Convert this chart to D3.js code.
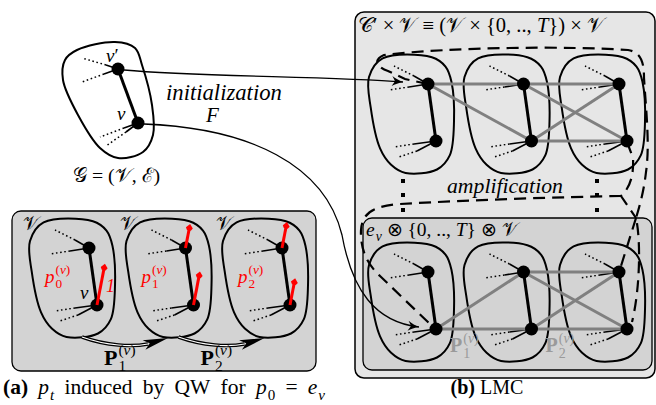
<!DOCTYPE html>
<html><head><meta charset="utf-8">
<script src="https://cdn.jsdelivr.net/npm/d3@7"></script>
<style>body{margin:0;background:#fff}svg{display:block}</style>
</head><body><svg id="c" width="656" height="405"></svg>
<script>
// ---------------- data ----------------
const stages = [0, 1, 2];                       // time steps t
const roles = ["upper", "lower"];               // v' (upper) and v (lower) in every copy of V
const qwAmplitude = [[0, 1.0], [0.55, 0.80], [0.60, 0.62]]; // red bars: p_t at upper / lower vertex
const transitionLabels = ["1", "2"];            // P_1^(v), P_2^(v)
const lmcEdgesTop = [[0,0,1,0],[0,0,1,1],[1,0,2,0],[1,0,2,1],[1,1,2,0],[1,1,2,1]];    // [t, role, t', role']
const lmcEdgesBottom = [[0,1,1,1],[0,1,1,0],[1,0,2,0],[1,0,2,1],[1,1,2,0],[1,1,2,1]];

// ---------------- font detection ----------------
function detect(fams) {
  const c = document.createElement("canvas").getContext("2d");
  const s = "mmmmmmmmmmlli WQ@#Ajgy";
  const wOf = f => { c.font = "40px " + f; return c.measureText(s).width; };
  const mono = wOf("monospace"), sans = wOf("sans-serif");
  for (const f of fams) {
    if (wOf(`'${f}',monospace`) !== mono || wOf(`'${f}',sans-serif`) !== sans) return f;
  }
  return null;
}
const found = detect(["Liberation Serif", "Times New Roman", "Tinos", "DejaVu Serif", "Noto Serif"]);
const FONT = found ? `'${found}', serif` : "serif";

// ---------------- setup ----------------
const svg = d3.select("#c");
const VV = ["(", {t:"v", i:1}, ")"];

const xA = d3.scaleLinear().domain([0, 2]).range([89, 282]);
const xB = d3.scaleLinear().domain([0, 2]).range([428, 619]);
const roleDx = d3.scaleOrdinal().domain(roles).range([0, 8]);
const roleDy = d3.scaleOrdinal().domain(roles).range([0, 57]);
const ampLen = d3.scaleLinear().domain([0, 1]).range([0, 39]);

const blobShape = [[0.16,0.02],[0.74,0.01],[0.9,0.09],[0.97,0.22],[1.0,0.56],[0.95,0.85],[0.8,0.97],[0.43,1.0],[0.26,0.93],[0.13,0.79],[0.02,0.44],[0.0,0.18]];
const closed = d3.line().curve(d3.curveCatmullRomClosed.alpha(0.5));

function put(g, segs, x, y, sz, fill, base) {
  const t = g.append("text").attr("x", x).attr("y", y).attr("font-size", sz)
    .attr("font-family", FONT).attr("fill", fill);
  const arr = Array.isArray(segs) ? segs : [Object.assign({}, base || {}, {t: segs})];
  arr.forEach(s => {
    if (typeof s === "string") s = {t: s};
    t.append("tspan").text(s.t.replace(/ /g, "\u00a0"))
      .style("font-style", s.i ? "italic" : "normal")
      .style("font-weight", s.b ? "bold" : "normal");
  });
  return t.node().getComputedTextLength();
}
function mtextRaw(parent, x, y, toks, size, fill, ws) {
  const g = parent.append("g");
  let cx = x, nsp = 0;
  let spW = 0;
  if (ws !== undefined) { const tmp = g.append("g"); spW = put(tmp, "\u00a0", 0, 0, size, fill); tmp.remove(); }
  toks.forEach(tk => {
    if (typeof tk === "string") tk = {t: tk};
    if (tk.t !== undefined) {
      if (ws !== undefined && typeof tk.t === "string" && tk.t.indexOf(" ") >= 0) {
        const parts = tk.t.split(" ");
        parts.forEach((p, j) => {
          if (p.length) cx += put(g, p, cx, y, size, fill, tk);
          if (j < parts.length - 1) { cx += spW + ws; nsp++; }
        });
      } else cx += put(g, tk.t, cx, y, size, fill, tk);
    } else {
      let w = 0; const s = size * 0.7;
      if (tk.sup !== undefined) w = Math.max(w, put(g, tk.sup, cx + 1, y - size * 0.47, s, fill));
      if (tk.sub !== undefined) w = Math.max(w, put(g, tk.sub, cx + 1, y + size * 0.28, s, fill));
      cx += w + 1;
    }
  });
  return [g, cx - x, nsp];
}
function mtext(parent, x, y, toks, o) {
  const fill = o.fill || "#000";
  let size = o.size;
  let g, w, n;
  if (o.spread) {
    [g, w, n] = mtextRaw(parent, x, y, toks, size, fill, 0);
    g.remove();
    [g, w] = mtextRaw(parent, x, y, toks, size, fill, n ? Math.max(0, (o.spread - w) / n) : 0);
  } else {
    [g, w] = mtextRaw(parent, x, y, toks, size, fill);
    if (o.fit) { g.remove(); size = size * o.fit / w; [g, w] = mtextRaw(parent, x, y, toks, size, fill); }
  }
  if (o.anchor === "middle") g.attr("transform", `translate(${-w / 2},0)`);
  return g;
}
function nodePos(x, y, role) { return [x + roleDx(role), y + roleDy(role)]; }

const spokes = {
  upper: [[-34,-18,-14,-8],[-39,6,-19,3]],
  lower: [[-42,6,-22,3],[-37,16,-19,10]]
};
function drawCopy(g, x, y) {
  const bx = x - 59, by = y - 28, bw = 85, bh = 117;
  g.append("path").attr("d", closed(blobShape.map(([u,v]) => [bx + u*bw, by + v*bh])))
    .attr("fill", "none").attr("stroke", "#000").attr("stroke-width", 2);
  roles.forEach(r => {
    const [nx, ny] = nodePos(x, y, r);
    spokes[r].forEach(([ex, ey, sx, sy]) => {
      g.append("line").attr("x1", nx+sx).attr("y1", ny+sy).attr("x2", nx+ex).attr("y2", ny+ey)
        .attr("stroke", "#000").attr("stroke-width", 1.5).attr("stroke-dasharray", "1.6,2.6");
      g.append("line").attr("x1", nx).attr("y1", ny).attr("x2", nx+sx).attr("y2", ny+sy)
        .attr("stroke", "#000").attr("stroke-width", 1.6);
    });
  });
}
function drawInner(g, x, y) {
  const [ux, uy] = nodePos(x, y, "upper"), [lx, ly] = nodePos(x, y, "lower");
  g.append("line").attr("x1", ux).attr("y1", uy).attr("x2", lx).attr("y2", ly)
    .attr("stroke", "#000").attr("stroke-width", 3);
}
function drawNodes(g, x, y) {
  roles.forEach(r => {
    const [nx, ny] = nodePos(x, y, r);
    g.append("circle").attr("cx", nx).attr("cy", ny).attr("r", 6.5).attr("fill", "#000");
  });
}

const defs = svg.append("defs");
defs.append("marker").attr("id", "ah").attr("viewBox", "-12 -6 14 12").attr("refX", 0).attr("refY", 0)
  .attr("markerWidth", 14).attr("markerHeight", 12).attr("markerUnits", "userSpaceOnUse").attr("orient", "auto")
  .append("path").attr("d", "M0,0 C-4,-1 -8,-3 -11,-5 L-8,0 L-11,5 C-8,3 -4,1 0,0Z").attr("fill", "#000");
defs.append("marker").attr("id", "rh").attr("viewBox", "-5 -5 10 10").attr("refX", 0).attr("refY", 0)
  .attr("markerWidth", 10).attr("markerHeight", 10).attr("markerUnits", "userSpaceOnUse").attr("orient", "auto")
  .append("path").attr("d", "M3,0 L-1,-3.5 L-3.5,-2 L-3.5,2 L-1,3.5Z").attr("fill", "#f00");

// ---------------- panel (b) background ----------------
svg.append("rect").attr("x", 355).attr("y", 12).attr("width", 300).attr("height", 366).attr("rx", 9)
  .attr("fill", "#e6e6e6").attr("stroke", "#000").attr("stroke-width", 1.5);
mtext(svg, 358, 32, [{t:"𝒞"}, "′ × ", {t:"𝒱"}, " ≡ (", {t:"𝒱"}, " × {0, .., ", {t:"T", i:1}, "}) × ", {t:"𝒱"}], {size: 19, fit: 245});
svg.append("rect").attr("x", 363).attr("y", 218).attr("width", 289).attr("height", 152).attr("rx", 9)
  .attr("fill", "#d3d3d3").attr("stroke", "#000").attr("stroke-width", 1.3);
mtext(svg, 366, 236, [{t:"e", i:1}, {sub:[{t:"v", i:1}]}, " ⊗ {0, .., ", {t:"T", i:1}, "} ⊗ ", {t:"𝒱"}], {size: 17, fit: 152});

// ---------------- panel (a) background ----------------
svg.append("rect").attr("x", 12).attr("y", 211).attr("width", 304).attr("height", 160).attr("rx", 9)
  .attr("fill", "#d3d3d3").attr("stroke", "#000").attr("stroke-width", 1.3);

// ---------------- panel (a) ----------------
const gA = svg.append("g");
const yA = 248;
stages.forEach(t => drawCopy(gA, xA(t), yA));
stages.forEach(t => drawInner(gA, xA(t), yA));
stages.forEach(t => drawNodes(gA, xA(t), yA));
stages.forEach(t => {
  roles.forEach((r, ri) => {
    const a = qwAmplitude[t][ri];
    if (a <= 0) return;
    const [nx, ny] = nodePos(xA(t), yA, r);
    const L = ampLen(a), ang = -Math.PI / 2 + 0.19;
    gA.append("line").attr("x1", nx).attr("y1", ny)
      .attr("x2", nx + L * Math.cos(ang)).attr("y2", ny + L * Math.sin(ang))
      .attr("stroke", "#f00").attr("stroke-width", 3).attr("marker-end", "url(#rh)");
  });
  mtext(gA, xA(t) - 66, 230, [{t:"𝒱"}], {size: 19});
  mtext(gA, xA(t) - 44, 283, [{t:"p", i:1}, {sup: VV, sub: String(t)}], {size: 19, fill: "#f00"});
});
mtext(gA, xA(0) + 17, 292, [{t:"1", i:1}], {size: 18, fill: "#f00"});
mtext(gA, xA(0) - 9, 299, [{t:"v", i:1}], {size: 19});

transitionLabels.forEach((lab, k) => {
  const x0 = xA(k) - 7, y0 = 337;
  const d = `M${x0},${y0} C${x0+25},${y0+9} ${x0+50},${y0+10} ${x0+66},${y0+7}`;
  gA.append("path").attr("d", d).attr("fill", "none").attr("stroke", "#000").attr("stroke-width", 3.6);
  gA.append("path").attr("d", d).attr("fill", "none").attr("stroke", "#fff").attr("stroke-width", 1.2);
  const tip = [x0 + 86, y0 + 1], base = [x0 + 62, y0 + 8];
  const dx = tip[0] - base[0], dy = tip[1] - base[1], len = Math.hypot(dx, dy);
  const ux = dx / len, uy = dy / len, px = -uy, py = ux;
  const b1 = [base[0] + px * 5, base[1] + py * 5], b2 = [base[0] - px * 5, base[1] - py * 5];
  const notch = [base[0] + ux * 6, base[1] + uy * 6];
  gA.append("path").attr("d", `M${tip}L${b1}L${notch}L${b2}Z`).attr("fill", "#000");
  mtext(gA, xA(k) + 15, 365, [{t:"P", b:1}, {sup: VV, sub: lab}], {size: 22});
});

// ---------------- panel (b) rows ----------------
const gB = svg.append("g");
[[84, lmcEdgesTop], [272, lmcEdgesBottom]].forEach(([y, edges]) => {
  stages.forEach(t => drawCopy(gB, xB(t), y));
  edges.forEach(([t1, r1, t2, r2]) => {
    const [ax, ay] = nodePos(xB(t1), y, roles[r1]), [bx, by] = nodePos(xB(t2), y, roles[r2]);
    gB.append("line").attr("x1", ax).attr("y1", ay).attr("x2", bx).attr("y2", by)
      .attr("stroke", "#808080").attr("stroke-width", 3);
  });
  stages.forEach(t => drawInner(gB, xB(t), y));
  stages.forEach(t => drawNodes(gB, xB(t), y));
});
transitionLabels.forEach((lab, k) => {
  mtext(gB, xB(k) + 22, 352, [{t:"P", b:1}, {sup: VV, sub: lab}], {size: 20, fill: "#9a9a9a"});
});

[xB(0) - 25, xB(2) - 22].forEach(x => {
  [181, 195, 210].forEach(y => gB.append("rect").attr("x", x - 2).attr("y", y - 2).attr("width", 4).attr("height", 4).attr("fill", "#000"));
});

const dashed = [
  "M428,84 L405,79 L388,71 C378,68 372,60 384,55 C450,47 570,46 628,50 C641,52 644,62 644,78 C646,110 650,145 646,172 C644,190 640,205 636,218 C641,240 640,290 632,322",
  "M636,218 L621,266",
  "M627,142 L633,158 C634,175 630,188 621,196 L636,218",
  "M621,196 C560,197 470,200 400,204 C372,206 362,214 361,230 C360,250 368,265 380,276 L432,326"
];
dashed.forEach(d => gB.append("path").attr("d", d).attr("fill", "none").attr("stroke", "#000")
  .attr("stroke-width", 2.2).attr("stroke-dasharray", "12,7"));
mtext(svg, 447, 193, [{t:"amplification", i:1}], {size: 20, fit: 116});

// ---------------- graph G ----------------
const gG = svg.append("g");
const vP = [118, 69], vN = [138, 123];
const gBlob = [[77,50],[115,42],[135,48],[142,65],[152,105],[153,135],[143,152],[118,158],[100,148],[78,115],[63,80],[65,60]];
gG.append("path").attr("d", closed(gBlob)).attr("fill", "none").attr("stroke", "#000").attr("stroke-width", 2);
[[vP, [[-36,-11,-12,-4],[-36,13,-14,5]]], [vN, [[-38,14,-14,5],[-32,23,-12,9]]]].forEach(([n, sp]) => {
  sp.forEach(([ex, ey, sx, sy]) => {
    gG.append("line").attr("x1", n[0]+sx).attr("y1", n[1]+sy).attr("x2", n[0]+ex).attr("y2", n[1]+ey)
      .attr("stroke", "#000").attr("stroke-width", 1.5).attr("stroke-dasharray", "1.6,2.6");
    gG.append("line").attr("x1", n[0]).attr("y1", n[1]).attr("x2", n[0]+sx).attr("y2", n[1]+sy)
      .attr("stroke", "#000").attr("stroke-width", 1.6);
  });
});
gG.append("line").attr("x1", vP[0]).attr("y1", vP[1]).attr("x2", vN[0]).attr("y2", vN[1]).attr("stroke", "#000").attr("stroke-width", 3);
[vP, vN].forEach(n => gG.append("circle").attr("cx", n[0]).attr("cy", n[1]).attr("r", 6.5).attr("fill", "#000"));
mtext(gG, 106, 62, [{t:"v", i:1}, "′"], {size: 19});
mtext(gG, 117, 120, [{t:"v", i:1}], {size: 19});
mtext(gG, 73, 182, [{t:"𝒢"}, " = (", {t:"𝒱"}, ", ", {t:"ℰ"}, ")"], {size: 19, fit: 87});

svg.append("path").attr("d", "M124,70 C200,77 330,76 403,82").attr("fill", "none").attr("stroke", "#000")
  .attr("stroke-width", 1.3).attr("marker-end", "url(#ah)");
svg.append("path").attr("d", "M144,124 C250,128 325,165 342,235 C352,290 375,322 419,327").attr("fill", "none")
  .attr("stroke", "#000").attr("stroke-width", 1.3).attr("marker-end", "url(#ah)");
mtext(svg, 166, 100, [{t:"initialization", i:1}], {size: 20, fit: 116});
mtext(svg, 206, 122, [{t:"F", i:1}], {size: 21});

// ---------------- captions ----------------
mtext(svg, 3, 394, [{t:"(a)", b:1}, " ", {t:"p", i:1}, {sub:[{t:"t", i:1}]}, " induced by QW for ", {t:"p", i:1}, {sub:"0"}, " = ", {t:"e", i:1}, {sub:[{t:"v", i:1}]}], {size: 21.5, spread: 322});
mtext(svg, 487, 394, [{t:"(b)", b:1}, " LMC"], {size: 20, fit: 73, anchor: "middle"});
</script></body></html>
